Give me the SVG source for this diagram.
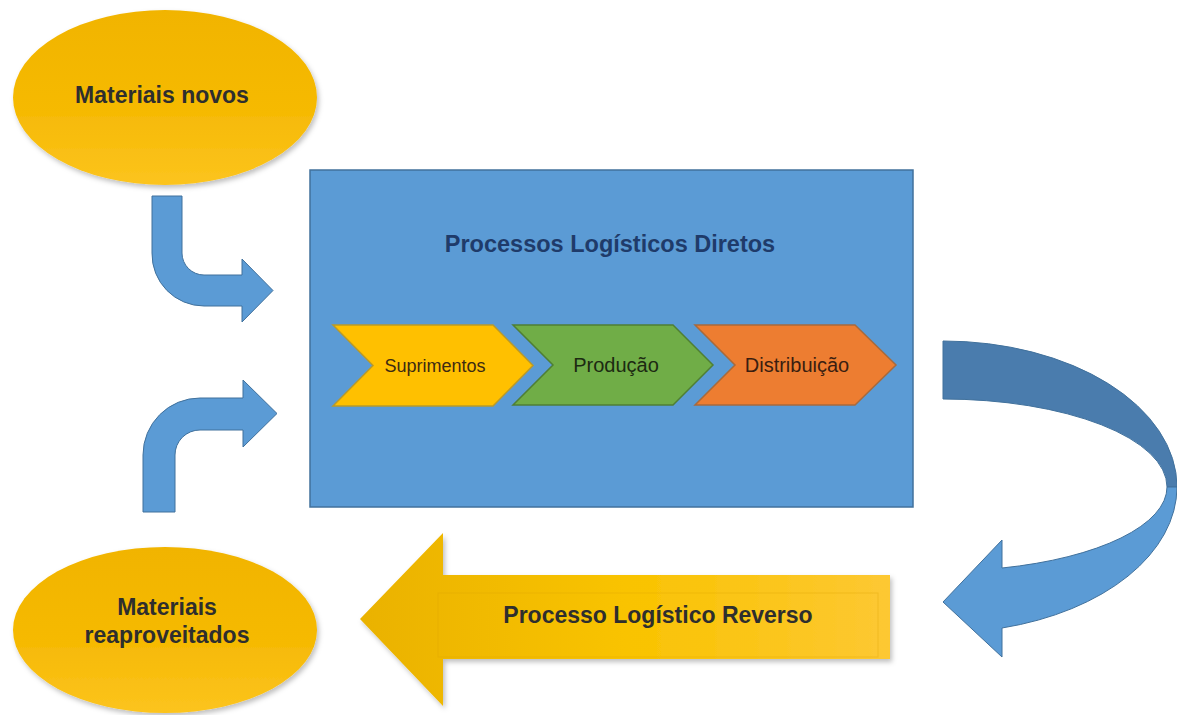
<svg xmlns="http://www.w3.org/2000/svg" width="1177" height="715" viewBox="0 0 1177 715">
  <defs>
    <linearGradient id="goldFill" x1="0" y1="0" x2="0" y2="1">
      <stop offset="0" stop-color="#f1b400"/>
      <stop offset="0.6" stop-color="#f6ba06"/>
      <stop offset="1" stop-color="#fcc41e"/>
    </linearGradient>
    <linearGradient id="reverseFill" x1="0" y1="0" x2="1" y2="0">
      <stop offset="0" stop-color="#eab200"/>
      <stop offset="0.5" stop-color="#f9c300"/>
      <stop offset="1" stop-color="#fdc833"/>
    </linearGradient>
    <filter id="softShadow" x="-10%" y="-10%" width="125%" height="130%">
      <feDropShadow dx="2" dy="3" stdDeviation="2.5" flood-color="#000" flood-opacity="0.25"/>
    </filter>
    <style>
      .label { font-family: "Liberation Sans", Arial, sans-serif; text-anchor: middle; }
      .bold { font-weight: bold; }
      .dark { fill: #2e2e2e; }
      .blue-arrow { fill: #5b9bd5; stroke: #41719c; stroke-width: 1; }
      .chevron { stroke-width: 1.5; }
    </style>
  </defs>

  <rect width="1177" height="715" fill="#ffffff"/>

  <!-- Source: new materials -->
  <g id="materiais-novos">
    <ellipse cx="165" cy="97.5" rx="152" ry="87.5" fill="url(#goldFill)" filter="url(#softShadow)"/>
    <text class="label bold dark" x="162" y="103" font-size="23">Materiais novos</text>
  </g>

  <!-- Direct logistics process block -->
  <g id="processos-diretos">
    <rect x="310" y="170" width="603" height="337" fill="#5b9bd5" stroke="#41719c" stroke-width="1.5"/>
    <text class="label bold" x="610" y="252" font-size="23.5" fill="#1f3b6a">Processos Logísticos Diretos</text>
  </g>

  <g id="suprimentos">
    <polygon class="chevron" points="333,325 493,325 533,365.5 493,406 333,406 373,365.5" fill="#ffc000" stroke="#b99a2a"/>
    <text class="label" x="435" y="372" font-size="18" fill="#3d2a12">Suprimentos</text>
  </g>

  <g id="producao">
    <polygon class="chevron" points="513,325 673,325 713,365 673,405 513,405 553,365" fill="#70ad47" stroke="#4f7f34"/>
    <text class="label" x="616" y="372" font-size="20" fill="#1c2a12">Produção</text>
  </g>

  <g id="distribuicao">
    <polygon class="chevron" points="695,325 855,325 896,365 855,405 695,405 735,365" fill="#ed7d31" stroke="#a86a3c"/>
    <text class="label" x="797" y="372" font-size="20" fill="#3a1e10">Distribuição</text>
  </g>

  <!-- Source: reused materials -->
  <g id="materiais-reaproveitados">
    <ellipse cx="165" cy="630" rx="152" ry="83" fill="url(#goldFill)" filter="url(#softShadow)"/>
    <text class="label bold dark" x="167" y="615" font-size="23">Materiais</text>
    <text class="label bold dark" x="167" y="643" font-size="23">reaproveitados</text>
  </g>

  <!-- Reverse logistics arrow -->
  <g id="processo-reverso">
    <polygon points="360,619 443,533 443,575 890,575 890,659 443,659 443,706" fill="url(#reverseFill)" filter="url(#softShadow)"/>
    <rect x="438" y="593" width="440" height="64" fill="none" stroke="#d9a400" stroke-opacity="0.35" stroke-width="1"/>
    <text class="label bold dark" x="658" y="623" font-size="23">Processo Logístico Reverso</text>
  </g>

  <!-- Connectors -->
  <g id="connectors">
    <!-- new materials into the direct process -->
    <path class="blue-arrow" d="M152,196 L182,196 L182,253 A22,22 0 0 0 204,275 L242,275 L242,259 L273,290.5 L242,322 L242,306 L204,306 A52,52 0 0 1 152,253 Z"/>
    <!-- reused materials back into the direct process -->
    <path class="blue-arrow" d="M143,512 L175,512 L175,455 A25,25 0 0 1 200,430 L243,430 L243,447 L277,413.5 L243,380 L243,398 L200,398 A57,57 0 0 0 143,455 Z"/>
    <!-- return loop: back face -->
    <path d="M943,341 A234,146 0 0 1 1177,487 L1167,487 A224,88 0 0 0 943,399 Z" fill="#4a7cad" stroke="#41719c" stroke-width="1"/>
    <!-- return loop: front face with head -->
    <path class="blue-arrow" d="M1177,487 A234,146 0 0 1 1002,628 L1002,657 L943,602 L1002,540 L1002,568 A224,84 0 0 0 1167,487 Z"/>
  </g>
</svg>
